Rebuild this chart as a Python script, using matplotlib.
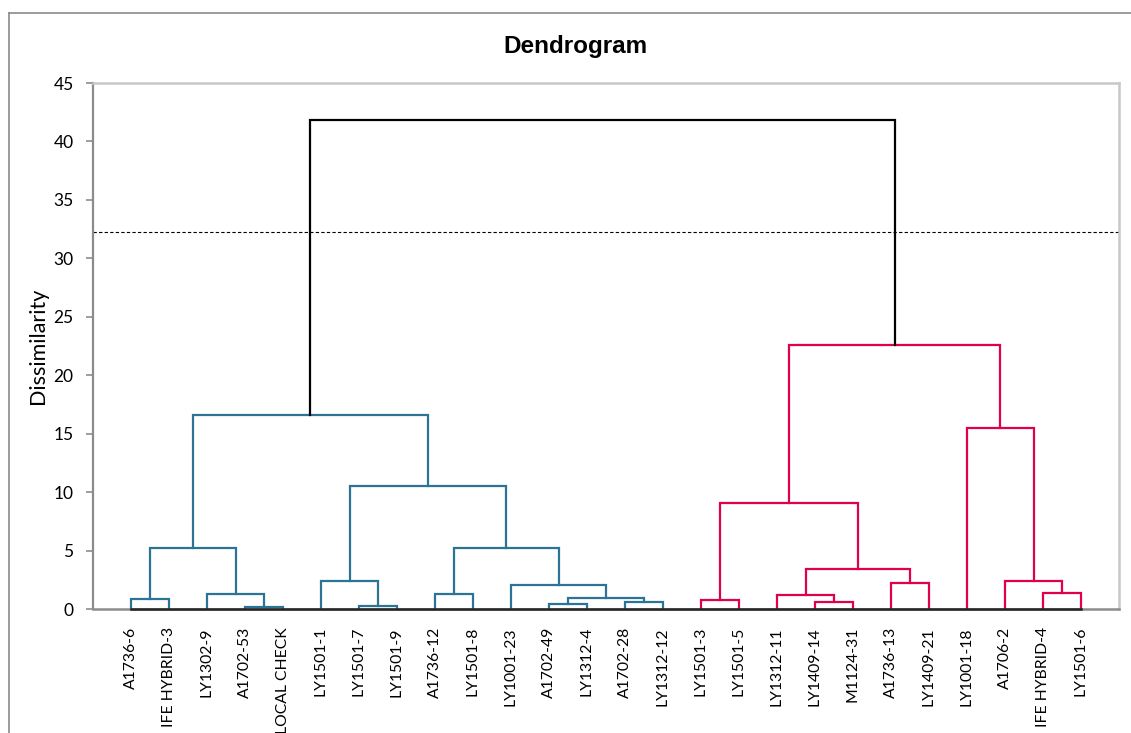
import numpy as np
import matplotlib
matplotlib.use("Agg")
import matplotlib.pyplot as plt
from matplotlib.lines import Line2D

# leaf order as shown on the axis
labels = ["A1736-6", "IFE HYBRID-3", "LY1302-9", "A1702-53", "LOCAL CHECK",
          "LY1501-1", "LY1501-7", "LY1501-9", "A1736-12", "LY1501-8",
          "LY1001-23", "A1702-49", "LY1312-4", "A1702-28", "LY1312-12",
          "LY1501-3", "LY1501-5", "LY1312-11", "LY1409-14", "M1124-31",
          "A1736-13", "LY1409-21", "LY1001-18", "A1706-2", "IFE HYBRID-4",
          "LY1501-6"]
leaf_group = [0]*15 + [1]*11

# merges: new node ids start at 26
merge_left = [0, 3, 2, 26, 6, 5, 8, 11, 13, 33, 10, 32, 31, 29,
              15, 18, 17, 20, 42, 40, 24, 23, 22, 45, 39]
merge_right = [1, 4, 27, 28, 7, 30, 9, 12, 14, 34, 35, 36, 37, 38,
               16, 19, 41, 21, 43, 44, 25, 46, 47, 48, 49]
merge_height = [0.85, 0.2, 1.25, 5.2, 0.25, 2.4, 1.25, 0.4, 0.6, 0.95, 2.05, 5.2, 10.5, 16.6,
                0.8, 0.6, 1.2, 2.2, 3.4, 9.1, 1.35, 2.4, 15.5, 22.6, 41.85]
cut_level = 32.25

group_colors = ["#2B7496", "#E2004B"]

plt.rcParams['font.family'] = ['Lato', 'DejaVu Sans']

fig = plt.figure(figsize=(11.31, 7.33), dpi=100)
ax = fig.add_axes([93/1131, 1 - 609/733, (1119-93)/1131, (609-83)/733])

n = len(labels)
pos = {i: float(i) for i in range(n)}
hgt = {i: 0.0 for i in range(n)}
grp = {i: leaf_group[i] for i in range(n)}

for k, (a, b, h) in enumerate(zip(merge_left, merge_right, merge_height)):
    node = n + k
    g = grp[a] if grp[a] == grp[b] else -1
    col = group_colors[g] if g >= 0 else "black"
    ax.plot([pos[a], pos[a], pos[b], pos[b]], [hgt[a], h, h, hgt[b]],
            color=col, lw=1.6, solid_joinstyle='miter', zorder=3)
    pos[node] = (pos[a] + pos[b]) / 2
    hgt[node] = h
    grp[node] = g

# baseline under the leaves
ax.plot([0, n-1], [0, 0], color="#262626", lw=1.8, zorder=4, clip_on=False)

ax.axhline(cut_level, color="black", lw=0.8, ls=(0, (3, 2)), zorder=2)

ax.set_xlim(-1, n)
ax.set_ylim(0, 45)
ax.set_yticks(np.arange(0, 46, 5))
ax.set_xticks(range(n))
ax.set_xticklabels(labels, rotation=90, fontsize=11.3, va='top', ha='center')
ax.tick_params(axis='x', length=0, pad=13)
ax.tick_params(axis='y', length=5, width=1.2, color="#8c8c8c", pad=9, labelsize=12.5)

for side in ["top", "right"]:
    ax.spines[side].set_color("#c8c8c8")
    ax.spines[side].set_linewidth(1.8)
ax.spines["left"].set_color("#8c8c8c")
ax.spines["left"].set_linewidth(1.6)
ax.spines["bottom"].set_color("#8c8c8c")
ax.spines["bottom"].set_linewidth(1.8)

ax.set_ylabel("Dissimilarity", fontsize=15.5)
ax.yaxis.set_label_coords((48 - 93)/1026, 0.5)
fig.text(575/1131, 1 - 46/733, "Dendrogram", ha='center', va='center',
         fontsize=17.5, fontweight='bold', family=['Liberation Sans', 'DejaVu Sans'])

# outer chart border
bx = 8.5/1131
by = 1 - 12.5/733
fig.add_artist(Line2D([bx, bx], [0, by], transform=fig.transFigure, color="#8a8a8a", lw=1.2))
fig.add_artist(Line2D([bx, 1], [by, by], transform=fig.transFigure, color="#8a8a8a", lw=1.2))

fig.savefig("out.png", dpi=100)
